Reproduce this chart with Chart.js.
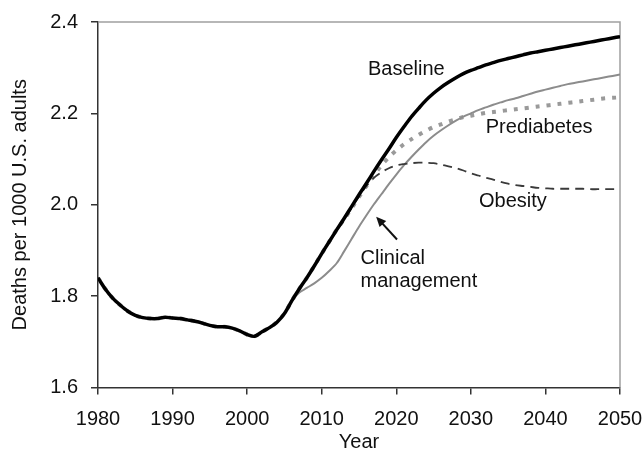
<!DOCTYPE html>
<html lang="en">
<head>
<meta charset="UTF-8">
<title>Deaths per 1000 U.S. adults</title>
<script src="https://cdn.jsdelivr.net/npm/chart.js"></script>
<style>
    body { margin: 0; background: #fff; }
    .box { width: 644px; height: 461px; position: relative; }
</style>
</head>
<body>
<div class="box"><canvas id="chart"></canvas></div>
<script>
// years on the x axis
const years = [
    1980, 1981, 1982, 1983, 1984, 1985, 1986, 1987, 1988, 1989,
    1990, 1991, 1992, 1993, 1994, 1995, 1996, 1997, 1998, 1999,
    2000, 2001, 2002, 2003, 2004, 2005, 2006, 2007, 2008, 2009,
    2010, 2011, 2012, 2013, 2014, 2015, 2016, 2017, 2018, 2019,
    2020, 2021, 2022, 2023, 2024, 2025, 2026, 2027, 2028, 2029,
    2030, 2031, 2032, 2033, 2034, 2035, 2036, 2037, 2038, 2039,
    2040, 2041, 2042, 2043, 2044, 2045, 2046, 2047, 2048, 2049, 2050
];

// 1980-2006, shared by every scenario
const history = [
    1.840, 1.815, 1.795, 1.780, 1.767, 1.758, 1.753, 1.751, 1.751, 1.754,
    1.752, 1.751, 1.748, 1.745, 1.741, 1.736, 1.733, 1.733, 1.730, 1.724,
    1.716, 1.712, 1.722, 1.731, 1.743, 1.762, 1.790
];

// 2007-2050 projections
const baseline = [
    1.816, 1.840, 1.866, 1.893, 1.919, 1.945, 1.970, 1.996, 2.022, 2.047,
    2.073, 2.098, 2.122, 2.147, 2.170, 2.192, 2.211, 2.229, 2.244, 2.257,
    2.268, 2.278, 2.287, 2.294, 2.300, 2.306, 2.311, 2.316, 2.320, 2.324,
    2.328, 2.332, 2.335, 2.338, 2.341, 2.344, 2.347, 2.350, 2.353, 2.356,
    2.359, 2.362, 2.365, 2.368
];
const prediabetes = [
    1.816, 1.840, 1.866, 1.893, 1.919, 1.945, 1.968, 1.992, 2.017, 2.041,
    2.064, 2.086, 2.104, 2.119, 2.132, 2.143, 2.153, 2.162, 2.170, 2.176,
    2.182, 2.187, 2.192, 2.195, 2.198, 2.201, 2.203, 2.205, 2.207, 2.209,
    2.211, 2.213, 2.215, 2.217, 2.219, 2.221, 2.223, 2.225, 2.227, 2.229,
    2.231, 2.233, 2.234, 2.235
];
const obesity = [
    1.816, 1.840, 1.866, 1.893, 1.919, 1.944, 1.966, 1.993, 2.018, 2.041,
    2.059, 2.071, 2.080, 2.086, 2.089, 2.091, 2.092, 2.092, 2.091, 2.088,
    2.084, 2.080, 2.075, 2.069, 2.064, 2.059, 2.055, 2.050, 2.046, 2.043,
    2.041, 2.039, 2.037, 2.036, 2.035, 2.035, 2.035, 2.035, 2.035, 2.034,
    2.034, 2.034, 2.034, 2.034
];
const clinical = [
    1.808, 1.818, 1.828, 1.840, 1.855, 1.872, 1.898, 1.925, 1.952, 1.977,
    2.001, 2.023, 2.045, 2.066, 2.086, 2.104, 2.121, 2.137, 2.151, 2.163,
    2.174, 2.184, 2.193, 2.200, 2.207, 2.213, 2.219, 2.224, 2.229, 2.233,
    2.238, 2.243, 2.248, 2.252, 2.256, 2.260, 2.264, 2.267, 2.270, 2.273,
    2.276, 2.279, 2.282, 2.285
];

// text labels placed in data units (year, value), left edge / middle
const notes = [
    { text: 'Baseline', year: 2016.2, value: 2.297 },
    { text: 'Prediabetes', year: 2032.0, value: 2.169 },
    { text: 'Obesity', year: 2031.1, value: 2.008 },
    { text: 'Clinical', year: 2015.2, value: 1.883 },
    { text: 'management', year: 2015.2, value: 1.832 }
];
const arrow = { from: [2020.1, 1.924], to: [2017.3, 1.974] };

const FONT = "'Liberation Sans', Arial, sans-serif";
Chart.defaults.font.family = FONT;
Chart.defaults.font.size = 20;
Chart.defaults.color = '#111';

function points(values) {
    const all = history.concat(values);
    return years.map((yr, i) => ({ x: yr, y: all[i] }));
}

// grey top/right frame + text notes and arrow
const extras = {
    id: 'extras',
    beforeDatasetsDraw(chart) {
        const { ctx, chartArea: a } = chart;
        ctx.save();
        ctx.strokeStyle = '#a0a0a0';
        ctx.lineWidth = 1.5;
        ctx.beginPath();
        ctx.moveTo(a.left, a.top);
        ctx.lineTo(a.right, a.top);
        ctx.lineTo(a.right, a.bottom);
        ctx.stroke();
        ctx.restore();
    },
    afterDatasetsDraw(chart) {
        const { ctx, scales: { x, y } } = chart;
        ctx.save();
        ctx.fillStyle = '#111';
        ctx.font = '20px ' + FONT;
        ctx.textAlign = 'left';
        ctx.textBaseline = 'middle';
        notes.forEach(n => ctx.fillText(n.text, x.getPixelForValue(n.year), y.getPixelForValue(n.value)));

        const x1 = x.getPixelForValue(arrow.from[0]), y1 = y.getPixelForValue(arrow.from[1]);
        const x2 = x.getPixelForValue(arrow.to[0]), y2 = y.getPixelForValue(arrow.to[1]);
        const ang = Math.atan2(y2 - y1, x2 - x1);
        ctx.strokeStyle = '#111';
        ctx.lineWidth = 2;
        ctx.beginPath();
        ctx.moveTo(x1, y1);
        ctx.lineTo(x2 - 5 * Math.cos(ang), y2 - 5 * Math.sin(ang));
        ctx.stroke();
        ctx.beginPath();
        ctx.moveTo(x2, y2);
        ctx.lineTo(x2 - 10 * Math.cos(ang) + 4.5 * Math.sin(ang), y2 - 10 * Math.sin(ang) - 4.5 * Math.cos(ang));
        ctx.lineTo(x2 - 10 * Math.cos(ang) - 4.5 * Math.sin(ang), y2 - 10 * Math.sin(ang) + 4.5 * Math.cos(ang));
        ctx.closePath();
        ctx.fill();
        ctx.restore();
    }
};

new Chart(document.getElementById('chart'), {
    type: 'line',
    data: {
        datasets: [
            { label: 'Baseline', data: points(baseline), borderColor: '#000', borderWidth: 3.5, order: 0 },
            { label: 'Obesity', data: points(obesity), borderColor: '#3a3a3a', borderWidth: 1.8, borderDash: [9, 6], order: 1 },
            { label: 'Clinical management', data: points(clinical), borderColor: '#8c8c8c', borderWidth: 2, order: 2 },
            { label: 'Prediabetes', data: points(prediabetes), borderColor: '#9a9a9a', borderWidth: 4, borderDash: [4, 7], order: 3 }
        ]
    },
    options: {
        responsive: true,
        maintainAspectRatio: false,
        animation: false,
        elements: {
            point: { radius: 0 },
            line: { tension: 0.3, fill: false, borderCapStyle: 'butt' }
        },
        layout: { padding: { top: 22, right: 24, bottom: 0, left: 0 } },
        plugins: { legend: { display: false }, tooltip: { enabled: false } },
        scales: {
            x: {
                type: 'linear',
                min: 1980,
                max: 2050,
                ticks: { stepSize: 10, padding: 13, color: '#111', callback: v => String(v) },
                grid: { drawOnChartArea: false, tickLength: 7, color: '#333', lineWidth: 1.5 },
                border: { color: '#333', width: 1.5 },
                title: { display: true, text: 'Year', color: '#111', padding: { top: 0, bottom: 7 } },
                afterFit(s) {
                    s.height = 73.5;
                    s.paddingLeft = 0;
                    s.paddingRight = 0;
                }
            },
            y: {
                min: 1.6,
                max: 2.4,
                ticks: { stepSize: 0.2, padding: 13, color: '#111', callback: v => v.toFixed(1) },
                grid: { drawOnChartArea: false, tickLength: 7, color: '#333', lineWidth: 1.5 },
                border: { color: '#333', width: 1.5 },
                title: { display: true, text: 'Deaths per 1000 U.S. adults', color: '#111', padding: { top: 8, bottom: 0 } },
                afterFit(s) {
                    s.width = 98;
                    s.paddingTop = 0;
                    s.paddingBottom = 0;
                }
            }
        }
    },
    plugins: [extras]
});
</script>
</body>
</html>
